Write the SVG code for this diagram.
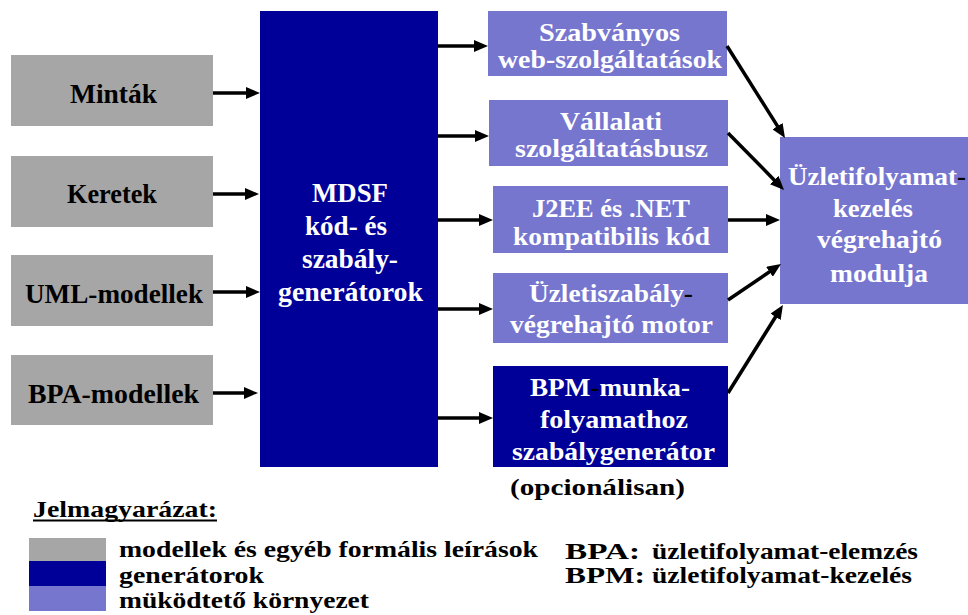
<svg xmlns="http://www.w3.org/2000/svg" width="968" height="615" viewBox="0 0 968 615">
<style>
.gray{fill:#A6A6A6}
.dark{fill:#000099}
.light{fill:#7676CF}
text{font-family:"Liberation Serif","Times New Roman",serif;font-weight:bold}
.b{font-size:27px;fill:#000}
.w{font-size:27px;fill:#fff}
.s{font-size:26px;fill:#fff}
.l{font-size:24px;fill:#000}
.k{fill:#000}
.conn line{stroke:#000;stroke-width:3.5;marker-end:url(#ah)}
</style>
<defs>
<marker id="ah" markerUnits="userSpaceOnUse" viewBox="0 0 14 12" markerWidth="14" markerHeight="12" refX="2" refY="6" orient="auto">
<path d="M0,0 L14,6 L0,12 z" fill="#000"/>
</marker>
</defs>
<rect width="968" height="615" fill="#fff"/>

<g id="mintak"><rect class="gray" x="11" y="55" width="202" height="71"/><text class="b" x="70" y="103" textLength="87" lengthAdjust="spacingAndGlyphs">Minták</text></g>
<g id="keretek"><rect class="gray" x="11" y="156" width="202" height="71"/><text class="b" x="67" y="203" textLength="90" lengthAdjust="spacingAndGlyphs">Keretek</text></g>
<g id="uml"><rect class="gray" x="11" y="255" width="202" height="71"/><text class="b" x="25" y="303" textLength="178" lengthAdjust="spacingAndGlyphs">UML-modellek</text></g>
<g id="bpa"><rect class="gray" x="11" y="355" width="202" height="70"/><text class="b" x="28" y="403" textLength="171" lengthAdjust="spacingAndGlyphs">BPA-modellek</text></g>

<g id="mdsf"><rect class="dark" x="260" y="11" width="178" height="456"/>
<text class="w" x="312" y="202" textLength="76" lengthAdjust="spacingAndGlyphs">MDSF</text>
<text class="w" x="305" y="235" textLength="82" lengthAdjust="spacingAndGlyphs">kód- és</text>
<text class="w" x="302" y="268" textLength="96" lengthAdjust="spacingAndGlyphs">szabály-</text>
<text class="w" x="278" y="301" textLength="145" lengthAdjust="spacingAndGlyphs">generátorok</text>
</g>

<g id="web"><rect class="light" x="488" y="11" width="239" height="65"/>
<text class="s" x="539" y="41" textLength="141" lengthAdjust="spacingAndGlyphs">Szabványos</text>
<text class="s" x="498" y="68" textLength="224" lengthAdjust="spacingAndGlyphs">web-szolgáltatások</text></g>
<g id="busz"><rect class="light" x="489" y="100" width="239" height="66"/>
<text class="s" x="560" y="130" textLength="102" lengthAdjust="spacingAndGlyphs">Vállalati</text>
<text class="s" x="515" y="157" textLength="193" lengthAdjust="spacingAndGlyphs">szolgáltatásbusz</text></g>
<g id="j2ee"><rect class="light" x="493" y="186" width="235" height="67"/>
<text class="s" x="532" y="217" textLength="158" lengthAdjust="spacingAndGlyphs">J2EE és .NET</text>
<text class="s" x="513" y="245" textLength="197" lengthAdjust="spacingAndGlyphs">kompatibilis kód</text></g>
<g id="motor"><rect class="light" x="493" y="273" width="235" height="70"/>
<text class="s" x="529" y="302" textLength="164" lengthAdjust="spacingAndGlyphs">Üzletiszabály<tspan class="k">-</tspan></text>
<text class="s" x="510" y="333" textLength="203" lengthAdjust="spacingAndGlyphs">végrehajtó motor</text></g>
<g id="bpm"><rect class="dark" x="493" y="366" width="235" height="101"/>
<text class="s" x="530" y="396" textLength="160" lengthAdjust="spacingAndGlyphs">BPM<tspan class="k">-</tspan>munka-</text>
<text class="s" x="540" y="428" textLength="148" lengthAdjust="spacingAndGlyphs">folyamathoz</text>
<text class="s" x="512" y="460" textLength="203" lengthAdjust="spacingAndGlyphs">szabálygenerátor</text></g>
<text class="l" x="510" y="495" textLength="175" lengthAdjust="spacingAndGlyphs">(opcionálisan)</text>

<g id="modul"><rect class="light" x="780" y="137" width="188" height="167"/>
<text class="s" x="788" y="185" textLength="178" lengthAdjust="spacingAndGlyphs">Üzletifolyamat<tspan class="k">-</tspan></text>
<text class="s" x="833" y="217" textLength="80" lengthAdjust="spacingAndGlyphs">kezelés</text>
<text class="s" x="817" y="248" textLength="125" lengthAdjust="spacingAndGlyphs">végrehajtó</text>
<text class="s" x="830" y="282" textLength="98" lengthAdjust="spacingAndGlyphs">modulja</text></g>

<g id="connectors" class="conn">
<line x1="213" y1="93" x2="248" y2="93"/>
<line x1="213" y1="194" x2="247" y2="194"/>
<line x1="213" y1="292" x2="248" y2="292"/>
<line x1="213" y1="393" x2="246" y2="393"/>
<line x1="438" y1="46" x2="476" y2="46"/>
<line x1="438" y1="136" x2="477" y2="136"/>
<line x1="438" y1="220" x2="481" y2="220"/>
<line x1="438" y1="309" x2="481" y2="309"/>
<line x1="438" y1="418" x2="481" y2="418"/>
<line x1="727" y1="46" x2="778.6" y2="127.9"/>
<line x1="728" y1="133" x2="775.6" y2="181.4"/>
<line x1="728" y1="220" x2="768" y2="220"/>
<line x1="728" y1="300" x2="771.1" y2="270.7"/>
<line x1="728" y1="393" x2="776.6" y2="315.2"/>
</g>

<g id="legend">
<text class="l" x="33" y="517" textLength="184" lengthAdjust="spacingAndGlyphs">Jelmagyarázat:</text>
<rect x="33" y="519.5" width="184" height="2" fill="#000"/>
<rect class="gray" x="29" y="538" width="77" height="23"/>
<rect class="dark" x="29" y="561" width="77" height="26"/>
<rect class="light" x="29" y="586" width="77" height="25"/>
<text class="l" x="119" y="557" textLength="419" lengthAdjust="spacingAndGlyphs">modellek és egyéb formális leírások</text>
<text class="l" x="119" y="583" textLength="145" lengthAdjust="spacingAndGlyphs">generátorok</text>
<text class="l" x="119" y="608" textLength="250" lengthAdjust="spacingAndGlyphs">müködtető környezet</text>
<text class="l" x="565" y="559" textLength="75" lengthAdjust="spacingAndGlyphs">BPA:</text>
<text class="l" x="652" y="559" textLength="266" lengthAdjust="spacingAndGlyphs">üzletifolyamat-elemzés</text>
<text class="l" x="565" y="583" textLength="80" lengthAdjust="spacingAndGlyphs">BPM:</text>
<text class="l" x="652" y="583" textLength="260" lengthAdjust="spacingAndGlyphs">üzletifolyamat-kezelés</text>
</g>
</svg>
